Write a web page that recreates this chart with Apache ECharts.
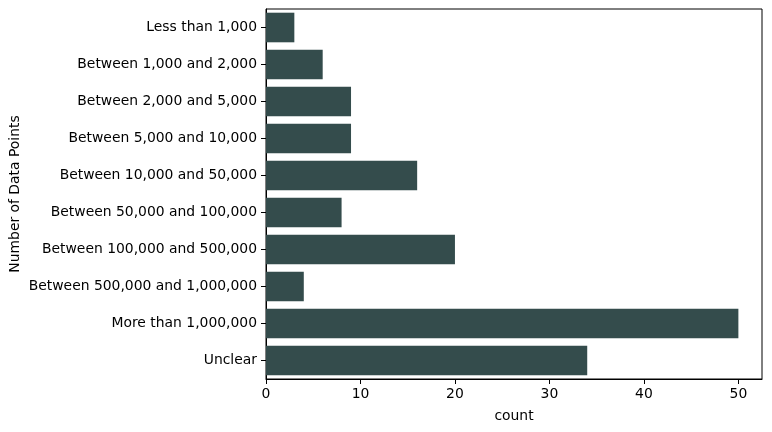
<!DOCTYPE html>
<html>
<head>
<meta charset="utf-8">
<script src="https://cdn.jsdelivr.net/npm/echarts@6/dist/echarts.min.js"></script>
<style>
  html, body { margin: 0; padding: 0; background: #fff; }
  #chart { width: 772px; height: 432px; }
</style>
</head>
<body>
<div id="chart"></div>
<script>
// categories (top to bottom)
var categories = [
  'Less than 1,000',
  'Between 1,000 and 2,000',
  'Between 2,000 and 5,000',
  'Between 5,000 and 10,000',
  'Between 10,000 and 50,000',
  'Between 50,000 and 100,000',
  'Between 100,000 and 500,000',
  'Between 500,000 and 1,000,000',
  'More than 1,000,000',
  'Unclear'
]
// counts
var counts = [3, 6, 9, 9, 16, 8, 20, 4, 50, 34]

var font = 'DejaVu Sans'
var fs = 13.9
var myChart = echarts.init(document.getElementById('chart'))

myChart.setOption({
  animation: false,
  grid: {
    left: 266, top: 9, right: 10, bottom: 53,
    outerBoundsMode: 'none',
    containLabel: false,
    show: true, borderColor: '#000', borderWidth: 1
  },
  xAxis: {
    type: 'value',
    min: 0,
    max: 52.5,
    interval: 10,
    name: 'count',
    nameLocation: 'middle',
    nameGap: 30,
    nameMoveOverlap: false,
    nameTextStyle: { fontFamily: font, fontSize: fs, color: '#000' },
    splitLine: { show: false },
    axisLine: { show: true, lineStyle: { color: '#000', width: 1 } },
    axisTick: { show: true, length: 5, lineStyle: { color: '#000' } },
    axisLabel: {
      fontFamily: font, fontSize: fs, color: '#000', margin: 8,
      showMaxLabel: false
    }
  },
  yAxis: {
    type: 'category',
    data: categories,
    inverse: true,
    name: 'Number of Data Points',
    nameLocation: 'middle',
    nameGap: 244,
    nameMoveOverlap: false,
    nameTextStyle: { fontFamily: font, fontSize: fs, color: '#000' },
    axisLine: { show: true, lineStyle: { color: '#000', width: 1 } },
    axisTick: { show: true, length: 5, alignWithLabel: true, lineStyle: { color: '#000' } },
    axisLabel: { fontFamily: font, fontSize: fs, color: '#000', margin: 9 }
  },
  series: [{
    type: 'bar',
    data: counts,
    barCategoryGap: '20%',
    itemStyle: { color: '#344c4c' }
  }]
})
</script>
</body>
</html>
